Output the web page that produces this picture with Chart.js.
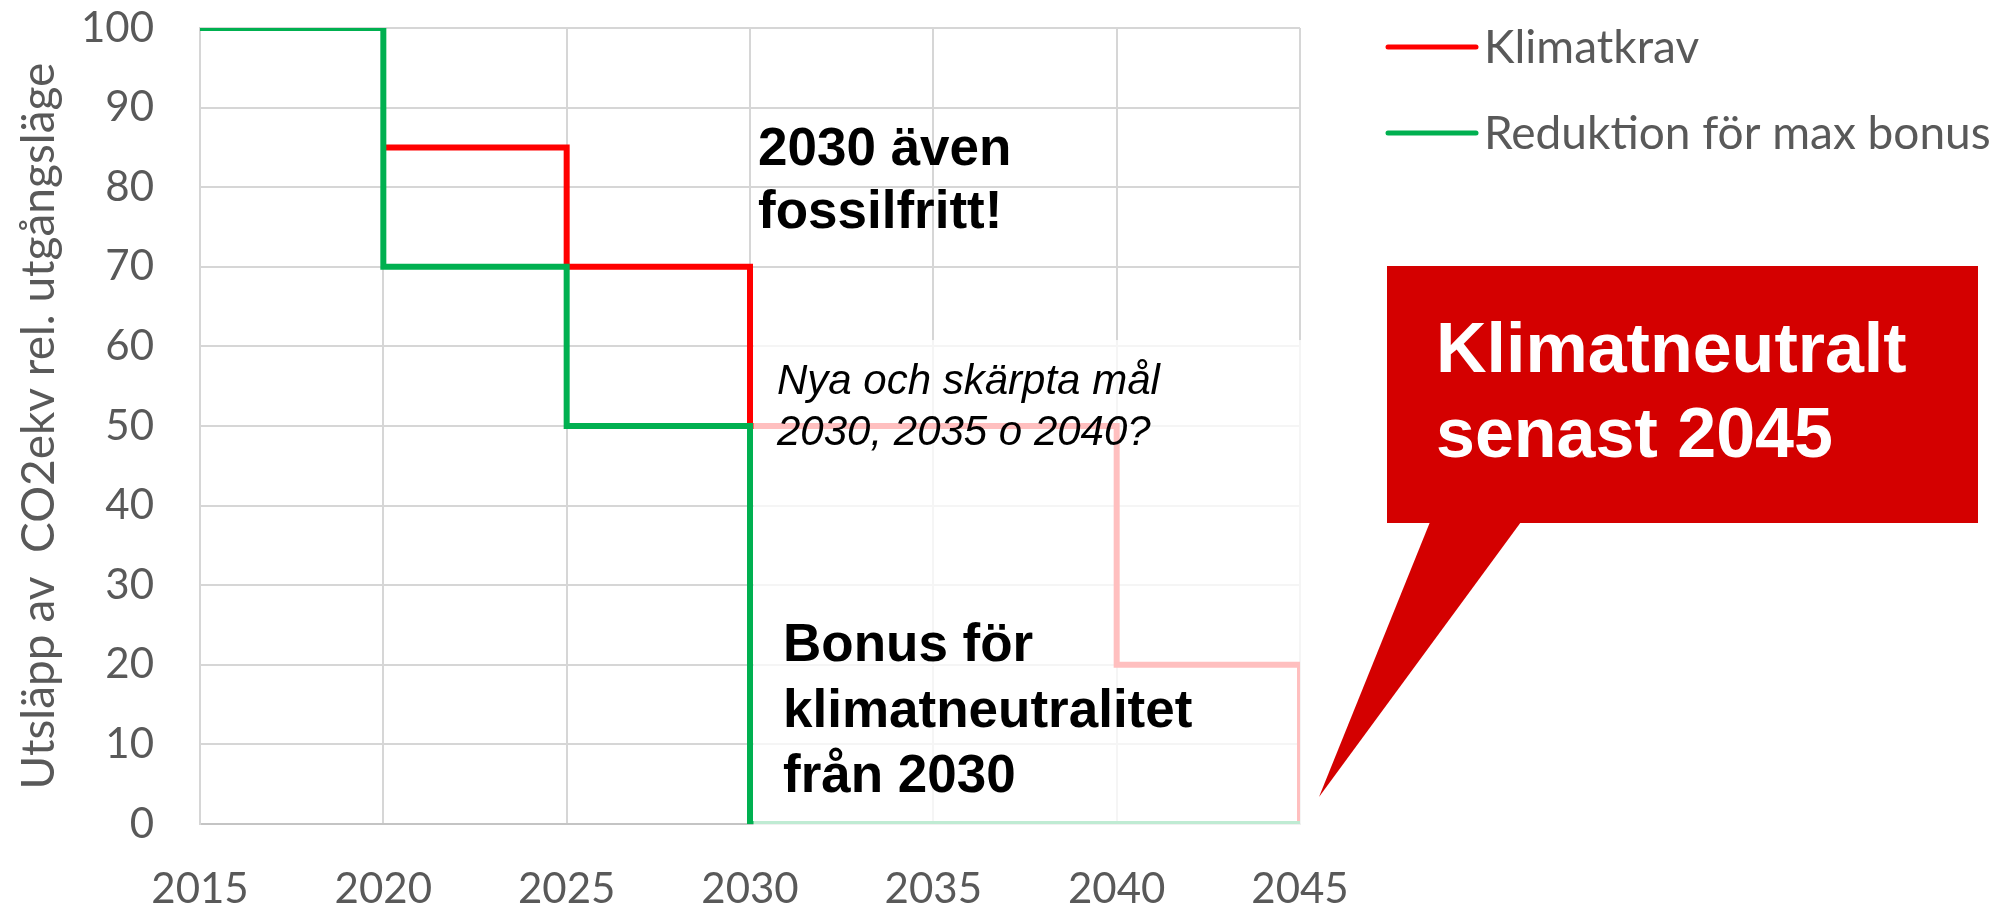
<!DOCTYPE html>
<html>
<head>
<meta charset="utf-8">
<script src="https://cdn.jsdelivr.net/npm/chart.js@4.4.1/dist/chart.umd.min.js"></script>
<style>
  html, body { margin: 0; padding: 0; background: #ffffff; }
  #wrap { width: 1998px; height: 910px; position: relative; }
</style>
</head>
<body>
<div id="wrap"><canvas id="c"></canvas></div>
<script>
// ---- data ----
const seriesNames = ['Klimatkrav', 'Reduktion för max bonus'];
const klimatkravYears = [2020, 2025, 2030, 2040, 2045];
const klimatkravValues = [85, 70, 50, 20, 0];
const bonusYears = [2015, 2020, 2025, 2030, 2045];
const bonusValues = [100, 70, 50, 0, 0];
const xTickLabels = ['2015', '2020', '2025', '2030', '2035', '2040', '2045'];
const yTickLabels = ['0', '10', '20', '30', '40', '50', '60', '70', '80', '90', '100'];
const yTitle = 'Utsläpp av  CO2ekv rel. utgångsläge';
const noteFossil = ['2030 även', 'fossilfritt!'];
const noteNya = ['Nya och skärpta mål', '2030, 2035 o 2040?'];
const noteBonus = ['Bonus för', 'klimatneutralitet', 'från 2030'];
const calloutText = ['Klimatneutralt', 'senast 2045'];

const tickColor = '#595959';
const tickFont = { family: 'Lato', size: 42 };

const toPts = (xs, ys) => xs.map((x, i) => ({ x: x, y: ys[i] }));

const fadePlugin = {
  id: 'fade',
  afterDatasetsDraw(chart) {
    const { ctx, scales: { x, y } } = chart;
    const x0 = x.getPixelForValue(2030) + 3.5;
    const x1 = x.getPixelForValue(2045) + 4;
    const y0 = y.getPixelForValue(60.8);
    const y1 = y.getPixelForValue(0) + 4;
    ctx.save();
    ctx.fillStyle = 'rgba(255,255,255,0.75)';
    ctx.fillRect(x0, y0, x1 - x0, y1 - y0);
    ctx.restore();
  }
};

const notesPlugin = {
  id: 'notes',
  afterDraw(chart) {
    const ctx = chart.ctx;
    ctx.save();
    // legend
    chart.data.datasets.forEach((ds, i) => {
      const ly = 47 + i * 86;
      ctx.strokeStyle = ds.borderColor;
      ctx.lineWidth = 5;
      ctx.lineCap = 'round';
      ctx.beginPath();
      ctx.moveTo(1388, ly);
      ctx.lineTo(1476, ly);
      ctx.stroke();
      ctx.fillStyle = tickColor;
      ctx.font = '46px Lato';
      ctx.textBaseline = 'middle';
      ctx.textAlign = 'left';
      ctx.fillText(ds.label, 1484, ly + 1);
    });
    ctx.textBaseline = 'alphabetic';
    ctx.fillStyle = '#000000';
    ctx.font = 'bold 53px "Liberation Sans", Arial, sans-serif';
    noteFossil.forEach((t, i) => ctx.fillText(t, 758, 165 + i * 63));
    ctx.font = 'italic 42px "Liberation Sans", Arial, sans-serif';
    noteNya.forEach((t, i) => ctx.fillText(t, 777, 394 + i * 51));
    ctx.font = 'bold 53px "Liberation Sans", Arial, sans-serif';
    noteBonus.forEach((t, i) => ctx.fillText(t, 783, 661 + i * 65.5));
    // callout
    ctx.fillStyle = '#d40000';
    ctx.fillRect(1387, 266, 591, 257);
    ctx.beginPath();
    ctx.moveTo(1430, 522);
    ctx.lineTo(1521, 522);
    ctx.lineTo(1319, 797);
    ctx.closePath();
    ctx.fill();
    ctx.fillStyle = '#ffffff';
    ctx.font = 'bold 70px "Liberation Sans", Arial, sans-serif';
    calloutText.forEach((t, i) => ctx.fillText(t, 1436, 372 + i * 85));
    ctx.restore();
  }
};

new Chart(document.getElementById('c'), {
  type: 'line',
  data: {
    datasets: [
      {
        label: seriesNames[0],
        data: toPts(klimatkravYears, klimatkravValues),
        borderColor: '#ff0000',
        borderWidth: 6,
        stepped: 'before',
        pointRadius: 0,
        fill: false,
        order: 1,
        borderCapStyle: 'butt',
        borderJoinStyle: 'miter'
      },
      {
        label: seriesNames[1],
        data: toPts(bonusYears, bonusValues),
        borderColor: '#00b050',
        borderWidth: 6,
        stepped: 'before',
        pointRadius: 0,
        fill: false,
        order: 0,
        borderCapStyle: 'butt',
        borderJoinStyle: 'miter'
      }
    ]
  },
  options: {
    responsive: true,
    maintainAspectRatio: false,
    animation: false,
    layout: { padding: { left: 0, right: 698, top: 28, bottom: 0 } },
    plugins: { legend: { display: false }, tooltip: { enabled: false } },
    scales: {
      x: {
        type: 'linear',
        min: 2015,
        max: 2045,
        ticks: {
          stepSize: 5,
          color: tickColor,
          font: tickFont,
          padding: 40,
          maxRotation: 0,
          callback: (v) => xTickLabels[Math.round((v - 2015) / 5)]
        },
        grid: { color: '#d6d6d6', lineWidth: 2, drawTicks: false },
        border: { color: '#c4c4c4', width: 2 },
        afterFit: (s) => { s.height = 86; s.paddingLeft = 0; s.paddingRight = 0; }
      },
      y: {
        min: 0,
        max: 100,
        ticks: {
          stepSize: 10,
          color: tickColor,
          font: tickFont,
          padding: 46,
          callback: (v) => yTickLabels[Math.round(v / 10)]
        },
        grid: { color: '#d6d6d6', lineWidth: 2, drawTicks: false },
        border: { color: '#d6d6d6', width: 2 },
        title: {
          display: true,
          text: yTitle,
          color: tickColor,
          font: { family: 'Lato', size: 46 },
          padding: { top: 12, bottom: 0 }
        },
        afterFit: (s) => { s.width = 200; s.paddingTop = 0; s.paddingBottom = 0; }
      }
    }
  },
  plugins: [fadePlugin, notesPlugin]
});
</script>
</body>
</html>
